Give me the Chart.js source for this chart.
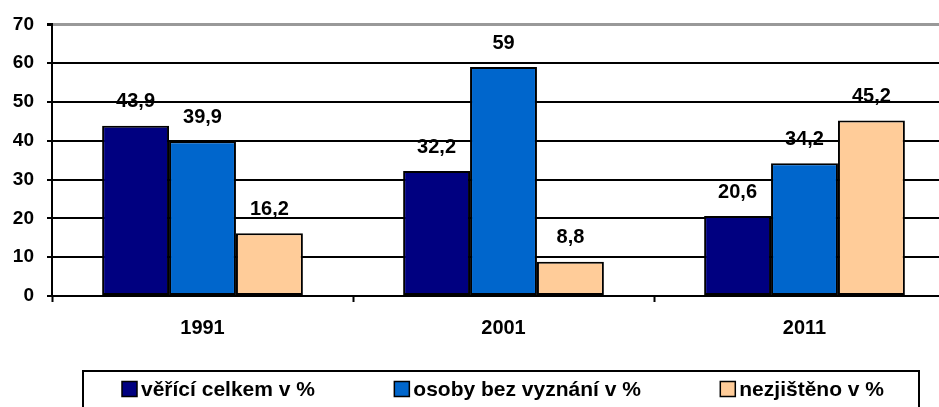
<!DOCTYPE html>
<html>
<head>
<meta charset="utf-8">
<script src="https://cdn.jsdelivr.net/npm/chart.js@4.4.0/dist/chart.umd.min.js"></script>
<style>
  html, body { margin: 0; padding: 0; background: #fff; overflow: hidden; }
  #wrap { width: 939px; height: 407px; overflow: hidden; }
</style>
</head>
<body>
<div id="wrap"><canvas id="myChart" width="955" height="407"></canvas></div>
<script>
const years = ['1991', '2001', '2011'];
const labelsSeries = ['věřící celkem v %', 'osoby bez vyznání v %', 'nezjištěno v %'];
const vericiCelkem = [43.9, 32.2, 20.6];
const bezVyznani = [39.9, 59, 34.2];
const nezjisteno = [16.2, 8.8, 45.2];
const barColors = ['#000080', '#0066CC', '#FFCC99'];

const FONT = 'Arial, "Liberation Sans", sans-serif';

// popisky hodnot nad sloupci
const valueLabels = {
    id: 'valueLabels',
    afterDatasetsDraw(chart) {
        const c = chart.ctx;
        c.save();
        c.font = 'bold 20px ' + FONT;
        c.fillStyle = '#000';
        c.textAlign = 'center';
        c.textBaseline = 'middle';
        chart.data.datasets.forEach((ds, i) => {
            chart.getDatasetMeta(i).data.forEach((bar, j) => {
                const txt = String(ds.data[j]).replace('.', ',');
                c.fillText(txt, bar.x, bar.y - 24);
            });
        });
        c.restore();
    }
};

// legenda v rámečku dole
const boxLegend = {
    id: 'boxLegend',
    afterDraw(chart) {
        const c = chart.ctx;
        c.save();
        c.strokeStyle = '#000';
        c.lineWidth = 2;
        c.strokeRect(83, 371, 836, 50);
        c.font = 'bold 21px ' + FONT;
        c.textBaseline = 'middle';
        const sq = 15, gapSq = 4;
        const left = 122, right = 884;
        const widths = chart.data.datasets.map(ds => sq + gapSq + c.measureText(ds.label).width);
        const sum = widths.reduce((a, b) => a + b, 0);
        const gap = (right - left - sum) / (widths.length - 1);
        let x = left;
        const cy = 389;
        chart.data.datasets.forEach((ds, i) => {
            c.fillStyle = ds.backgroundColor;
            c.fillRect(x, cy - sq / 2, sq, sq);
            c.lineWidth = 1.5;
            c.strokeRect(x, cy - sq / 2, sq, sq);
            c.fillStyle = '#000';
            c.fillText(ds.label, x + sq + gapSq, cy + 1);
            x += widths[i] + gap;
        });
        c.restore();
    }
};

const ctx = document.getElementById('myChart').getContext('2d');
const myChart = new Chart(ctx, {
    type: 'bar',
    data: {
        labels: years,
        datasets: [
            { label: labelsSeries[0], data: vericiCelkem, backgroundColor: barColors[0] },
            { label: labelsSeries[1], data: bezVyznani, backgroundColor: barColors[1] },
            { label: labelsSeries[2], data: nezjisteno, backgroundColor: barColors[2] }
        ].map(ds => Object.assign(ds, {
            borderColor: '#000',
            borderWidth: 2,
            borderSkipped: false,
            barPercentage: 1,
            categoryPercentage: 0.667
        }))
    },
    options: {
        responsive: false,
        animation: false,
        devicePixelRatio: 1,
        layout: { padding: { top: 23, left: 0, right: 0, bottom: 0 } },
        plugins: {
            legend: { display: false },
            tooltip: { enabled: false }
        },
        scales: {
            x: {
                afterFit: s => { s.height = 111; },
                grid: {
                    offset: true,
                    drawOnChartArea: false,
                    drawTicks: true,
                    tickLength: 6,
                    tickWidth: 2,
                    tickColor: '#000'
                },
                border: { color: '#000', width: 2 },
                ticks: {
                    color: '#000',
                    padding: 14,
                    font: { family: FONT, size: 20, weight: 'bold' }
                }
            },
            y: {
                min: 0,
                max: 70,
                afterFit: s => { s.width = 52; },
                grid: {
                    color: c => (c.tick && c.tick.value === 70) ? '#999999' : '#000',
                    lineWidth: c => (c.tick && c.tick.value === 70) ? 3 : 2,
                    tickLength: 5,
                    tickColor: '#000'
                },
                border: { color: '#000', width: 2 },
                ticks: {
                    stepSize: 10,
                    color: '#000',
                    padding: 13,
                    font: { family: FONT, size: 19, weight: 'bold' }
                }
            }
        }
    },
    plugins: [valueLabels, boxLegend]
});
</script>
</body>
</html>
